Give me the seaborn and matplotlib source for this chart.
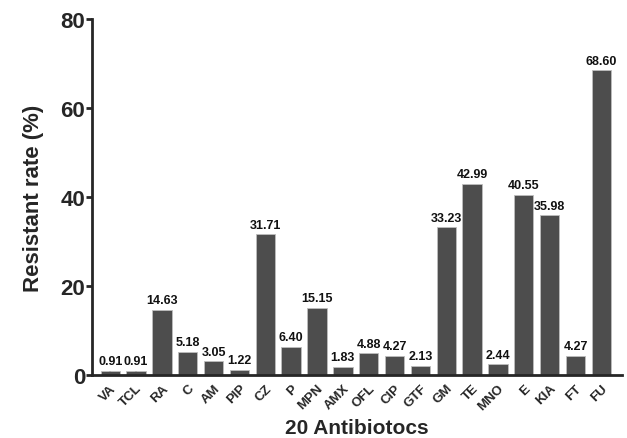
import numpy as np
import pandas as pd
import matplotlib
matplotlib.use("Agg")
import matplotlib.pyplot as plt
import seaborn as sns

# 数据
antibiotics = ["VA", "TCL", "RA", "C", "AM", "PIP", "CZ", "P", "MPN", "AMX",
               "OFL", "CIP", "GTF", "GM", "TE", "MNO", "E", "KIA", "FT", "FU"]
resistant_rate = [0.91, 0.91, 14.63, 5.18, 3.05, 1.22, 31.71, 6.40, 15.15, 1.83,
                  4.88, 4.27, 2.13, 33.23, 42.99, 2.44, 40.55, 35.98, 4.27, 68.60]
y_ticks = [0, 20, 40, 60, 80]

sns.set_theme(style="ticks")
plt.rcParams['font.family'] = ['Liberation Sans', 'DejaVu Sans']
plt.rcParams['font.weight'] = 'bold'

df = pd.DataFrame({"antibiotic": antibiotics, "rate": resistant_rate})

fig = plt.figure(figsize=(6.27, 4.39), dpi=100)
ax = fig.add_axes([0.147, 0.1435, 0.845, 0.81])

sns.barplot(data=df, x="antibiotic", y="rate", color="#4d4d4d", saturation=1,
            width=0.75, edgecolor="#bdbdbd", linewidth=0.6, ax=ax)

# 柱顶数值标签
for i, v in enumerate(resistant_rate):
    ax.text(i, v + 0.8, f"{v:.2f}", ha="center", va="bottom",
            fontsize=9, fontweight="bold", color="#111111")

ax.set_ylim(0, 80)
ax.set_xlim(-0.7, 19.8)
ax.set_yticks(y_ticks)
ax.set_yticklabels([str(t) for t in y_ticks], fontsize=16, fontweight="bold")
ax.set_xticks(range(len(antibiotics)))
ax.set_xticklabels(antibiotics, rotation=45, ha="right", rotation_mode="anchor",
                   fontsize=9.5, fontweight="bold")
ax.tick_params(axis="y", direction="out", length=4, width=2, pad=1)
ax.tick_params(axis="x", direction="in", length=3, width=1.5, pad=5)

ax.set_ylabel("Resistant rate (%)", fontsize=16, fontweight="bold", labelpad=12)
ax.set_xlabel("20 Antibiotocs", fontsize=15, fontweight="bold", labelpad=4)

sns.despine(ax=ax)
ax.spines["left"].set_linewidth(2)
ax.spines["bottom"].set_linewidth(2)

fig.savefig("out.png", dpi=100)
